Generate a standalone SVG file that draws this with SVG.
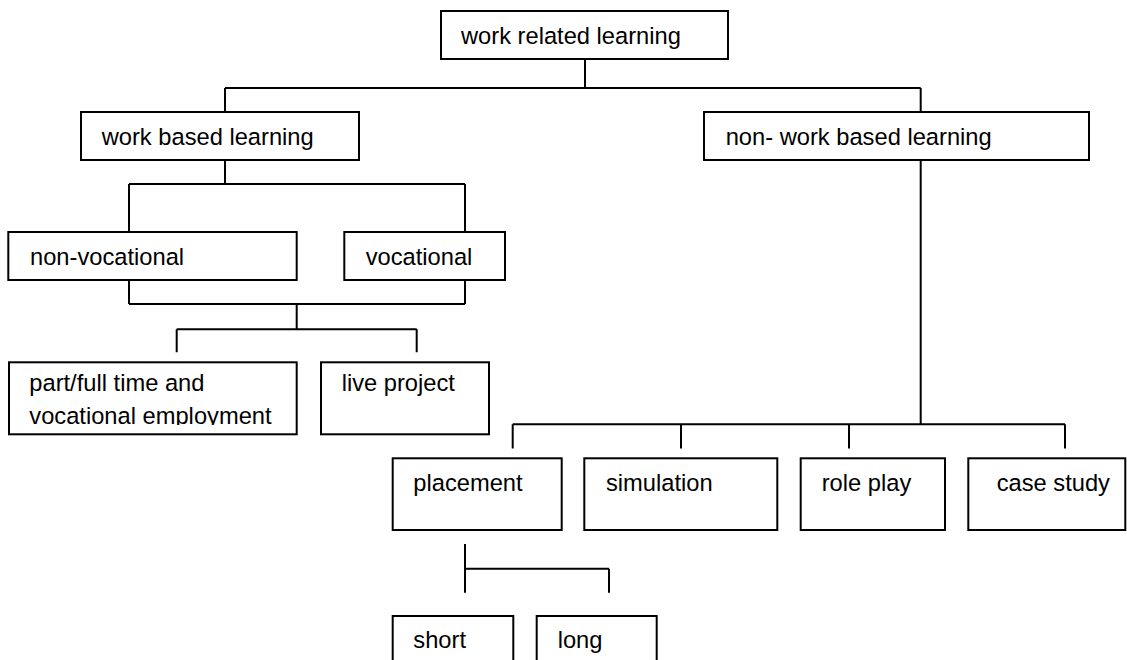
<svg xmlns="http://www.w3.org/2000/svg" width="1127" height="660" viewBox="0 0 1127 660">
<style>
.box{fill:#fff;stroke:#000;stroke-width:2}
.t{font-family:"Liberation Sans",Arial,sans-serif;font-size:23.7px;fill:#000}
.c{fill:none;stroke:#000;stroke-width:2}
</style>
<defs>
<clipPath id="pfclip"><rect x="9" y="362" width="288" height="63"/></clipPath>
</defs>
<rect width="1127" height="660" fill="#fff"/>
<g id="connectors">
<path class="c" d="M585,59V88M225,88H920.7M225,88V112M920.7,88V112"/>
<path class="c" d="M225,160V184M129,184H465M129,184V232M465,184V232"/>
<path class="c" d="M129,280V304M465,280V304M129,304H465M296.7,304V329.3"/>
<path class="c" d="M176.7,329.3H416.7M176.7,329.3V352.3M416.7,329.3V352.3"/>
<path class="c" d="M920.7,160V424.3M512.7,424.3H1065M512.7,424.3V448.5M681,424.3V448.5M849,424.3V448.5M1065,424.3V448.5"/>
<path class="c" d="M465,544V592.7M465,568.7H609M609,568.7V592.7"/>
</g>
<g id="work-related-learning"><rect class="box" x="441" y="11" width="287" height="48"/><text class="t" x="461" y="44.3">work related learning</text></g>
<g id="work-based-learning"><rect class="box" x="81" y="112" width="278" height="48"/><text class="t" x="101.7" y="145">work based learning</text></g>
<g id="non-work-based-learning"><rect class="box" x="704" y="112" width="385" height="48"/><text class="t" x="725.7" y="145">non- work based learning</text></g>
<g id="non-vocational"><rect class="box" x="8.3" y="232" width="288.4" height="48"/><text class="t" x="30" y="265">non-vocational</text></g>
<g id="vocational"><rect class="box" x="344.3" y="232" width="160.7" height="48"/><text class="t" x="365.7" y="265">vocational</text></g>
<g id="part-full-time"><rect class="box" x="9" y="362.3" width="287.7" height="72"/><g clip-path="url(#pfclip)"><text class="t" x="29.3" y="391">part/full time and</text><text class="t" x="29.3" y="423.5">vocational employment</text></g></g>
<g id="live-project"><rect class="box" x="321" y="362.3" width="168" height="72"/><text class="t" x="341.7" y="391">live project</text></g>
<g id="placement"><rect class="box" x="392.7" y="458.3" width="169" height="71.7"/><text class="t" x="413.3" y="490.7">placement</text></g>
<g id="simulation"><rect class="box" x="584.3" y="458.3" width="193" height="71.7"/><text class="t" x="606" y="490.7">simulation</text></g>
<g id="role-play"><rect class="box" x="800.7" y="458.3" width="144.3" height="71.7"/><text class="t" x="821.7" y="490.7">role play</text></g>
<g id="case-study"><rect class="box" x="968.3" y="458.3" width="157" height="71.7"/><text class="t" x="996.7" y="490.7">case study</text></g>
<g id="short"><rect class="box" x="392.7" y="616" width="120.6" height="60"/><text class="t" x="413.3" y="648.3">short</text></g>
<g id="long"><rect class="box" x="536.7" y="616" width="120" height="60"/><text class="t" x="557.7" y="648.3">long</text></g>
</svg>
